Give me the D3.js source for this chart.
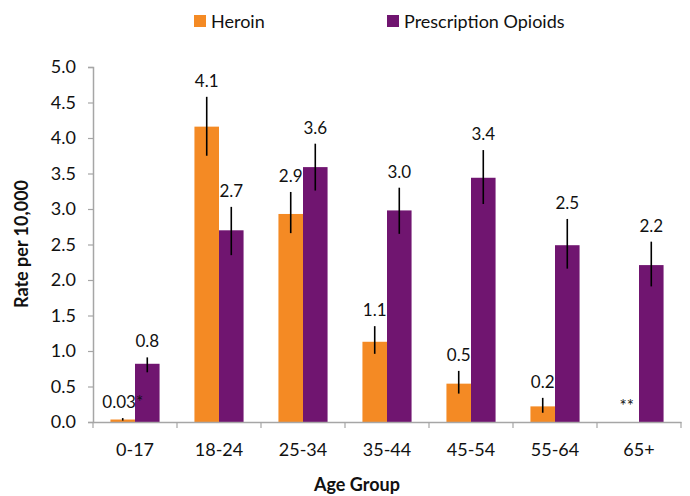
<!DOCTYPE html>
<html>
<head>
<meta charset="utf-8">
<script src="https://cdn.jsdelivr.net/npm/d3@7"></script>
<style>
  body { margin: 0; background: #fff; }
  #chart { width: 690px; height: 496px; }
  text { font-family: Lato, "Open Sans", sans-serif; fill: #111; }
</style>
</head>
<body>
<div id="chart"></div>
<script>
const ageGroups = ["0-17", "18-24", "25-34", "35-44", "45-54", "55-64", "65+"];
const seriesNames = ["Heroin", "Prescription Opioids"];
const seriesColors = ["#f48a24", "#701570"];

const heroinRate = [0.035, 4.16, 2.93, 1.13, 0.54, 0.22, null];
const heroinLow = [0.02, 3.75, 2.66, 0.96, 0.40, 0.13, null];
const heroinHigh = [0.055, 4.58, 3.24, 1.35, 0.72, 0.34, null];
const heroinLabels = ["0.03*", "4.1", "2.9", "1.1", "0.5", "0.2", "**"];

const opioidRate = [0.82, 2.70, 3.59, 2.98, 3.44, 2.49, 2.21];
const opioidLow = [0.70, 2.35, 3.26, 2.65, 3.07, 2.16, 1.91];
const opioidHigh = [0.91, 3.03, 3.92, 3.30, 3.83, 2.86, 2.54];
const opioidLabels = ["0.8", "2.7", "3.6", "3.0", "3.4", "2.5", "2.2"];

const yTicks = [0, 0.5, 1, 1.5, 2, 2.5, 3, 3.5, 4, 4.5, 5];

const width = 690, height = 496;
const margin = { top: 67, right: 9, bottom: 74, left: 93 };
const axisColor = "#a6a6a6";

const svg = d3.select("#chart").append("svg")
    .attr("width", width)
    .attr("height", height);

const x = d3.scaleBand()
    .domain(ageGroups)
    .range([margin.left, width - margin.right])
    .padding(0);

const xSub = d3.scaleBand()
    .domain(seriesNames)
    .range([0, x.bandwidth()])
    .paddingInner(0)
    .paddingOuter(0.71);

const y = d3.scaleLinear()
    .domain([0, 5])
    .range([height - margin.bottom, margin.top]);

// one row per bar
const series = [
    { name: seriesNames[0], color: seriesColors[0], rate: heroinRate, low: heroinLow, high: heroinHigh, labels: heroinLabels },
    { name: seriesNames[1], color: seriesColors[1], rate: opioidRate, low: opioidLow, high: opioidHigh, labels: opioidLabels }
];
const rows = [];
series.forEach(s => {
    ageGroups.forEach((g, i) => {
        rows.push({ group: g, series: s.name, color: s.color, value: s.rate[i], low: s.low[i], high: s.high[i], label: s.labels[i] });
    });
});
const barCenter = d => x(d.group) + xSub(d.series) + xSub.bandwidth() / 2;

// y axis
const yAxis = svg.append("g")
    .attr("transform", "translate(" + margin.left + ",0)")
    .call(d3.axisLeft(y).tickValues(yTicks).tickSize(5).tickPadding(12).tickFormat(d3.format(".1f")));
yAxis.select(".domain").attr("stroke", axisColor).attr("stroke-width", 1.5);
yAxis.selectAll(".tick line").attr("stroke", axisColor).attr("stroke-width", 1.2);
yAxis.selectAll(".tick text").style("font-size", "18px").style("font-family", "Lato").attr("fill", "#111");

// bars
svg.append("g").selectAll("rect")
    .data(rows.filter(d => d.value != null))
    .join("rect")
    .attr("x", d => x(d.group) + xSub(d.series))
    .attr("width", xSub.bandwidth())
    .attr("y", d => y(d.value))
    .attr("height", d => y(0) - y(d.value))
    .attr("fill", d => d.color);

// x axis
const xAxis = svg.append("g")
    .attr("transform", "translate(0," + y(0) + ")")
    .call(d3.axisBottom(x).tickSize(0).tickPadding(21));
xAxis.select(".domain").attr("stroke", axisColor).attr("stroke-width", 1.5);
xAxis.selectAll(".tick text").style("font-size", "18px").style("font-family", "Lato").attr("fill", "#111");
xAxis.selectAll(".sep")
    .data(d3.range(ageGroups.length + 1))
    .join("line")
    .attr("class", "sep")
    .attr("x1", i => margin.left + i * x.step())
    .attr("x2", i => margin.left + i * x.step())
    .attr("y1", 0)
    .attr("y2", 6)
    .attr("stroke", axisColor)
    .attr("stroke-width", 1.2);

// error bars
svg.append("g").selectAll("line")
    .data(rows.filter(d => d.low != null))
    .join("line")
    .attr("x1", barCenter)
    .attr("x2", barCenter)
    .attr("y1", d => y(d.high))
    .attr("y2", d => y(d.low))
    .attr("stroke", "#000")
    .attr("stroke-width", 1.6);

// value labels
svg.append("g").selectAll("text")
    .data(rows)
    .join("text")
    .attr("x", barCenter)
    .attr("y", d => y(d.high == null ? 0 : d.high) - 10)
    .attr("text-anchor", "middle")
    .style("font-size", "17px")
    .text(d => d.label);

// axis titles
svg.append("text")
    .attr("x", 357)
    .attr("y", 491)
    .attr("text-anchor", "middle")
    .style("font-size", "18px")
    .style("font-weight", "bold")
    .text("Age Group");

svg.append("text")
    .attr("transform", "translate(28,244) rotate(-90)")
    .attr("text-anchor", "middle")
    .style("font-size", "18px")
    .style("font-weight", "bold")
    .text("Rate per 10,000");

// legend
const legendX = [194, 387];
const legend = svg.append("g").selectAll("g")
    .data(series)
    .join("g")
    .attr("transform", (d, i) => "translate(" + legendX[i] + ",15)");
legend.append("rect")
    .attr("width", 12)
    .attr("height", 12)
    .attr("fill", d => d.color);
legend.append("text")
    .attr("x", 17)
    .attr("y", 12.5)
    .style("font-size", "18px")
    .text(d => d.name);
</script>
</body>
</html>
